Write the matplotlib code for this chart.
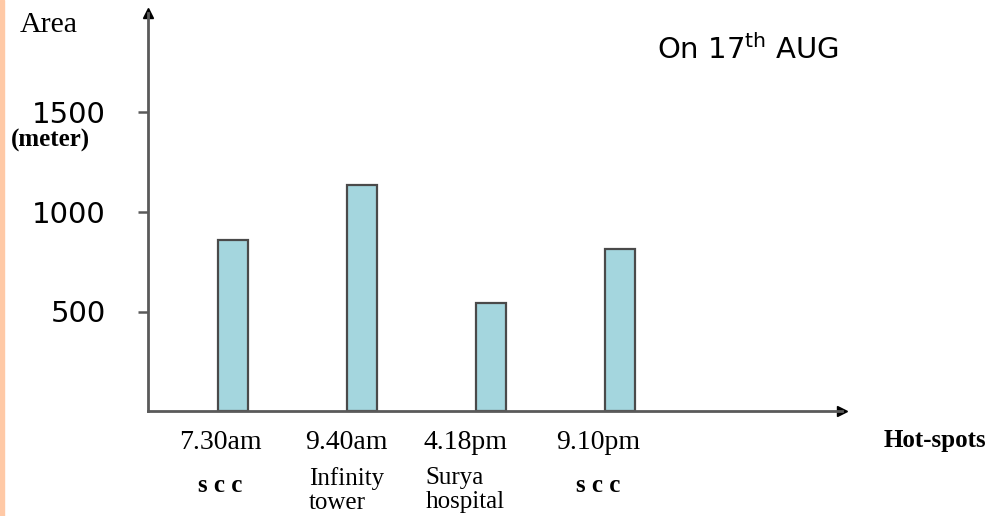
import matplotlib
matplotlib.use("Agg")
import matplotlib.pyplot as plt
from matplotlib.patches import Rectangle

# ---- data ----
times = ["7.30am", "9.40am", "4.18pm", "9.10pm"]
places = ["s c c", "Infinity\ntower", "Surya\nhospital", "s c c"]
areas = [860, 1135, 545, 815]
yticks = [500, 1000, 1500]

W, H = 987, 516
fig = plt.figure(figsize=(W / 100, H / 100), dpi=100)
fig.patch.set_facecolor("white")
fig.patches.append(Rectangle((0, 0), 4 / W, 1, transform=fig.transFigure,
                             color="#FFC9A6", zorder=0))

ax_left, ax_right, ax_bottom, ax_top = 148, 842, 411, 13
ax = fig.add_axes([ax_left / W, 1 - ax_bottom / H,
                   (ax_right - ax_left) / W, (ax_bottom - ax_top) / H])

pos = list(range(len(areas)))
ax.bar(pos, areas, width=0.233, color="#A4D6DE", edgecolor="#4a4a4a",
       linewidth=1.6, zorder=2)

ax.set_xlim(-0.659, 4.72)
ax.set_ylim(0, 2000)

axis_col = "#5a5a5a"
for s in ["top", "right"]:
    ax.spines[s].set_visible(False)
for s in ["left", "bottom"]:
    ax.spines[s].set_color(axis_col)
    ax.spines[s].set_linewidth(2)

# arrow heads
ax.plot(1, 0, marker=">", color="black", markersize=7,
        transform=ax.transAxes, clip_on=False)
ax.plot(0, 1, marker="^", color="black", markersize=7,
        transform=ax.transAxes, clip_on=False)

ax.set_xticks([])
ax.set_yticks(yticks)
ax.set_yticklabels([str(v) for v in yticks], fontsize=21,
                   family="DejaVu Sans")
ax.tick_params(axis="y", length=7, width=1.8, color=axis_col, pad=23.5)

# x labels
serif = "Liberation Serif"
offsets = [-0.10, -0.12, -0.20, -0.17]
for i, (t, p) in enumerate(zip(times, places)):
    x = pos[i] + offsets[i]
    ax.annotate(t, xy=(x, 0), xytext=(0, -23), textcoords="offset points",
                ha="center", va="center", fontsize=20, family=serif,
                annotation_clip=False)
    if "\n" in p:
        ax.annotate(p, xy=(x, 0), xytext=(0, -40), textcoords="offset points",
                    ha="center", va="top", fontsize=18, family=serif,
                    multialignment="left", linespacing=1.12,
                    annotation_clip=False)
    else:
        ax.annotate(p, xy=(x, 0), xytext=(0, -58), textcoords="offset points",
                    ha="center", va="baseline", fontsize=18, family=serif,
                    fontweight="bold", annotation_clip=False)

def fx(px):
    return px / W

def fy(py):
    return 1 - py / H

fig.text(fx(49), fy(25), "Area", fontsize=21.5, family=serif,
         ha="center", va="center")
fig.text(fx(50), fy(140), "(meter)", fontsize=18, family=serif,
         fontweight="bold", ha="center", va="center")
fig.text(fx(986), fy(441), "Hot-spots", fontsize=18, family=serif,
         fontweight="bold", ha="right", va="center")
plt.rcParams["mathtext.default"] = "regular"
fig.text(fx(657), fy(50), r"On 17$^{th}$ AUG", fontsize=21,
         family="DejaVu Sans", ha="left", va="center")

fig.savefig("out.png", dpi=100)
